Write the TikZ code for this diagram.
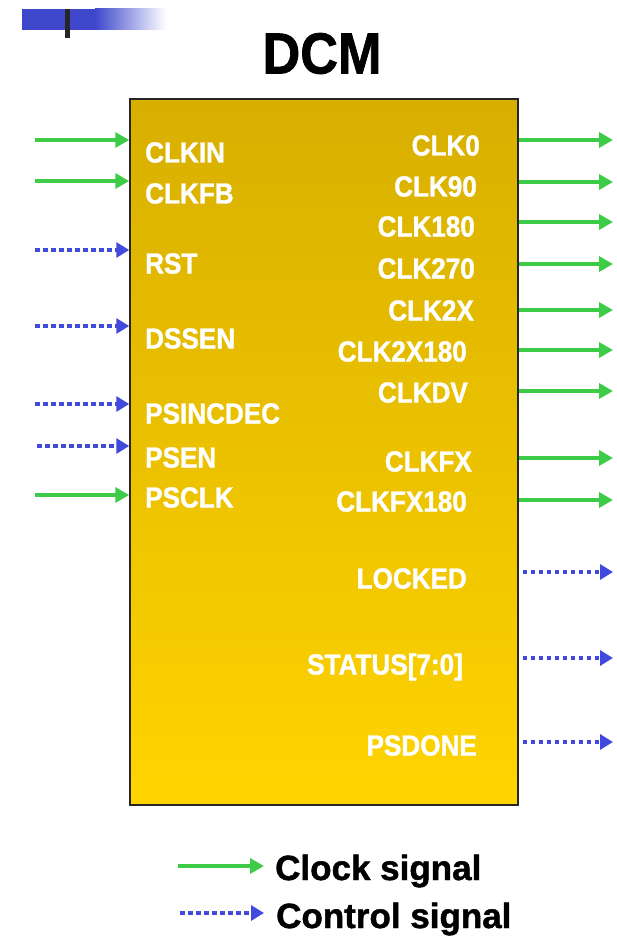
\documentclass[tikz,border=0pt]{standalone}
\usepackage{fontspec}
\setmainfont{Liberation Sans}[BoldFeatures={FakeBold=1.3}]
\usetikzlibrary{arrows.meta}
\definecolor{clkgreen}{RGB}{62,204,72}
\definecolor{ctlblue}{RGB}{66,74,222}
\definecolor{goldtop}{RGB}{216,175,0}
\definecolor{goldbot}{RGB}{254,212,0}
\definecolor{barblue}{RGB}{63,72,204}
\tikzset{
  clk/.style={draw=clkgreen, line width=4pt, -{Triangle[length=14pt,width=15pt]}},
  ctl/.style={draw=ctlblue, line width=4.5pt, dash pattern=on 4.5pt off 3.5pt, -{Triangle[length=13pt,width=15pt]}},
  pin/.style={text=white, font=\bfseries\fontsize{29}{29}\selectfont, inner sep=0pt, xscale=0.9, text height=21pt, text depth=0pt},
  inpin/.style={pin, anchor=west},
  outpin/.style={pin, anchor=east},
  legtext/.style={font=\bfseries\fontsize{35}{35}\selectfont, inner sep=0pt, anchor=base west}
}
\begin{document}
\begin{tikzpicture}[x=1pt,y=1pt]
\useasboundingbox (0,0) rectangle (617,-944);
% top-left decoration
\fill[barblue] (22,-9) rectangle (96,-30);
\shade[left color=barblue, right color=white] (95,-9) rectangle (166,-30);
\draw[line width=5pt, black!85] (67,-9) -- (67,-38);
% title
\node[font=\bfseries\fontsize{58}{58}\selectfont, inner sep=0pt, xscale=0.9, text height=41pt, text depth=0pt] (title) at (322,-53) {DCM};
% box
\node[draw=black!85, line width=1.5pt, top color=goldtop, bottom color=goldbot, minimum width=388pt, minimum height=706pt, inner sep=0pt] (dcm) at (324,-452) {};
% input labels
\node[inpin] (lCLKIN) at (145,-152) {CLKIN};
\node[inpin] (lCLKFB) at (145,-193) {CLKFB};
\node[inpin] (lRST) at (145,-263) {RST};
\node[inpin] (lDSSEN) at (145,-338) {DSSEN};
\node[inpin] (lPSINCDEC) at (145,-413) {PSINCDEC};
\node[inpin] (lPSEN) at (145,-457) {PSEN};
\node[inpin] (lPSCLK) at (145,-497) {PSCLK};
% input arrows
\coordinate (iCLKIN) at (35,-140);
\coordinate (iCLKFB) at (35,-181);
\coordinate (iRST) at (35,-250);
\coordinate (iDSSEN) at (35,-326);
\coordinate (iPSINCDEC) at (35,-404);
\coordinate (iPSEN) at (37,-446);
\coordinate (iPSCLK) at (35,-495);
\draw[clk] (iCLKIN) -- (iCLKIN -| dcm.west);
\draw[clk] (iCLKFB) -- (iCLKFB -| dcm.west);
\draw[ctl] (iRST) -- (iRST -| dcm.west);
\draw[ctl] (iDSSEN) -- (iDSSEN -| dcm.west);
\draw[ctl] (iPSINCDEC) -- (iPSINCDEC -| dcm.west);
\draw[ctl] (iPSEN) -- (iPSEN -| dcm.west);
\draw[clk] (iPSCLK) -- (iPSCLK -| dcm.west);
% output labels
\node[outpin] (rCLK0) at (480,-145) {CLK0};
\node[outpin] (rCLK90) at (477,-186) {CLK90};
\node[outpin] (rCLK180) at (475,-226) {CLK180};
\node[outpin] (rCLK270) at (475,-268) {CLK270};
\node[outpin] (rCLK2X) at (474,-310) {CLK2X};
\node[outpin] (rCLK2X180) at (467,-351) {CLK2X180};
\node[outpin] (rCLKDV) at (468,-392) {CLKDV};
\node[outpin] (rCLKFX) at (472,-461) {CLKFX};
\node[outpin] (rCLKFX180) at (467,-501) {CLKFX180};
\node[outpin] (rLOCKED) at (467,-578) {LOCKED};
\node[outpin] (rSTATUS) at (463,-664) {STATUS[7:0]};
\node[outpin] (rPSDONE) at (477,-745) {PSDONE};
% output arrows
\coordinate (oCLK0) at (613,-140);
\coordinate (oCLK90) at (613,-182);
\coordinate (oCLK180) at (613,-222);
\coordinate (oCLK270) at (613,-264);
\coordinate (oCLK2X) at (613,-310);
\coordinate (oCLK2X180) at (613,-350);
\coordinate (oCLKDV) at (613,-391);
\coordinate (oCLKFX) at (613,-458);
\coordinate (oCLKFX180) at (613,-500);
\coordinate (oLOCKED) at (613,-572);
\coordinate (oSTATUS) at (613,-658);
\coordinate (oPSDONE) at (613,-742);
\foreach \n in {CLK0,CLK90,CLK180,CLK270,CLK2X,CLK2X180,CLKDV,CLKFX,CLKFX180}
  \draw[clk] (o\n -| dcm.east) -- (o\n);
\foreach \n in {LOCKED,STATUS,PSDONE}
  \draw[ctl] ([xshift=4pt]o\n -| dcm.east) -- (o\n);
% legend
\coordinate (lgA) at (178,-866);
\coordinate (lgB) at (264,-866);
\coordinate (lgC) at (180,-913);
\coordinate (lgD) at (264,-913);
\draw[clk] (lgA) -- (lgB);
\draw[ctl] (lgC) -- (lgD);
\node[legtext] (tclock) at (275,-880) {Clock signal};
\node[legtext] (tcontrol) at (276,-928) {Control signal};
\end{tikzpicture}
\end{document}
